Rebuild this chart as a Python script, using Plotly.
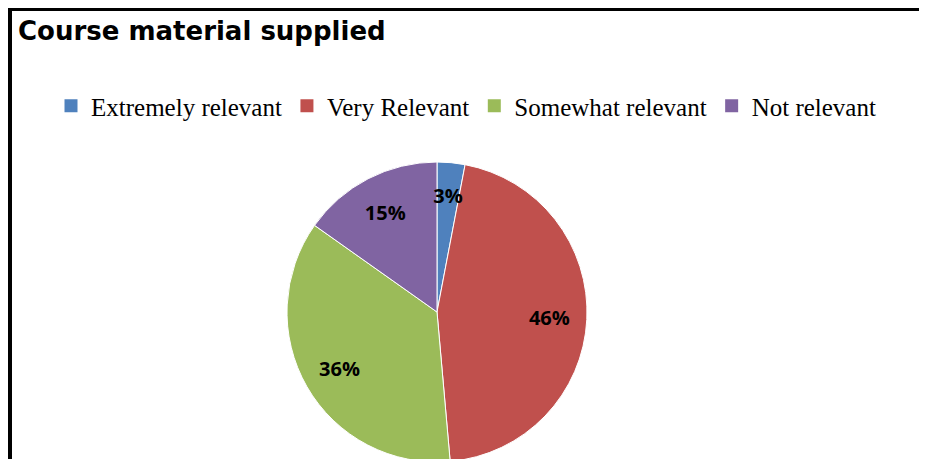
import plotly.graph_objects as go

labels = ["Extremely relevant", "Very Relevant", "Somewhat relevant", "Not relevant"]
values = [3.0, 45.6, 36.2, 15.2]
colors = ["#4F81BD", "#C0504D", "#9BBB59", "#8064A2"]

W, H = 927, 459
OFF = 8  # page body margin offset

# pie geometry (reference pixels -> figure pixels)
cx, cy, R = 437 - OFF, 312 - OFF, 150


def domain(r):
    return dict(x=[(cx - r) / W, (cx + r) / W],
                y=[(H - (cy + r)) / H, (H - (cy - r)) / H])


label_font = dict(family="Open Sans", size=20, color="black", weight="bold")
clear = ["rgba(0,0,0,0)"] * len(labels)
pct = "%{percent:.0%}"
small = [v < 5 for v in values]

fig = go.Figure()

# coloured slices
fig.add_trace(go.Pie(
    labels=labels, values=values, sort=False,
    direction="clockwise", rotation=0,
    marker=dict(colors=colors, line=dict(color="white", width=1)),
    textinfo="none", showlegend=False, hoverinfo="skip",
    domain=domain(R),
))

# transparent ring carrying the percentage labels of the large slices
fig.add_trace(go.Pie(
    labels=labels, values=values, sort=False,
    direction="clockwise", rotation=0, hole=0.5,
    marker=dict(colors=clear, line=dict(width=0)),
    texttemplate=["" if s else pct for s in small],
    textposition="inside", insidetextorientation="horizontal",
    textfont=label_font, showlegend=False, hoverinfo="skip",
    domain=domain(R),
))

# smaller transparent ring for the label of the thin slice
fig.add_trace(go.Pie(
    labels=labels, values=values, sort=False,
    direction="clockwise", rotation=0, hole=0.5,
    marker=dict(colors=clear, line=dict(width=0)),
    texttemplate=[pct if s else "" for s in small],
    textposition="inside", insidetextorientation="horizontal",
    textfont=label_font, showlegend=False, hoverinfo="skip",
    domain=domain(128),
))

# legend entries
for lab, col in zip(labels, colors):
    fig.add_trace(go.Scatter(
        x=[None], y=[None], mode="markers", name=lab,
        marker=dict(symbol="square", size=13, color=col),
        showlegend=True, hoverinfo="skip",
    ))

fig.update_layout(
    width=W,
    height=H,
    margin=dict(l=0, r=0, t=0, b=0),
    paper_bgcolor="white",
    plot_bgcolor="rgba(0,0,0,0)",
    xaxis=dict(visible=False),
    yaxis=dict(visible=False),
    title=dict(
        text="<b>Course material supplied</b>",
        font=dict(family="DejaVu Sans", size=26, color="black"),
        x=(18 - OFF) / W, xanchor="left", xref="paper",
        y=1 - (31 - OFF) / H, yanchor="middle", yref="paper",
    ),
    legend=dict(
        orientation="h",
        x=(51 - OFF) / W, xanchor="left",
        y=1 - (106 - OFF) / H, yanchor="middle",
        font=dict(family="Liberation Serif", size=25, color="black"),
        traceorder="normal",
        itemclick=False, itemdoubleclick=False,
    ),
    uniformtext=dict(minsize=20, mode="show"),
    shapes=[dict(
        type="rect", xref="paper", yref="paper",
        x0=(9.5 - OFF) / W, x1=1.2, y0=-0.2, y1=1 - (8.5 - OFF) / H,
        line=dict(color="black", width=5), fillcolor="rgba(0,0,0,0)",
    )],
)

fig.write_html("out.html")
